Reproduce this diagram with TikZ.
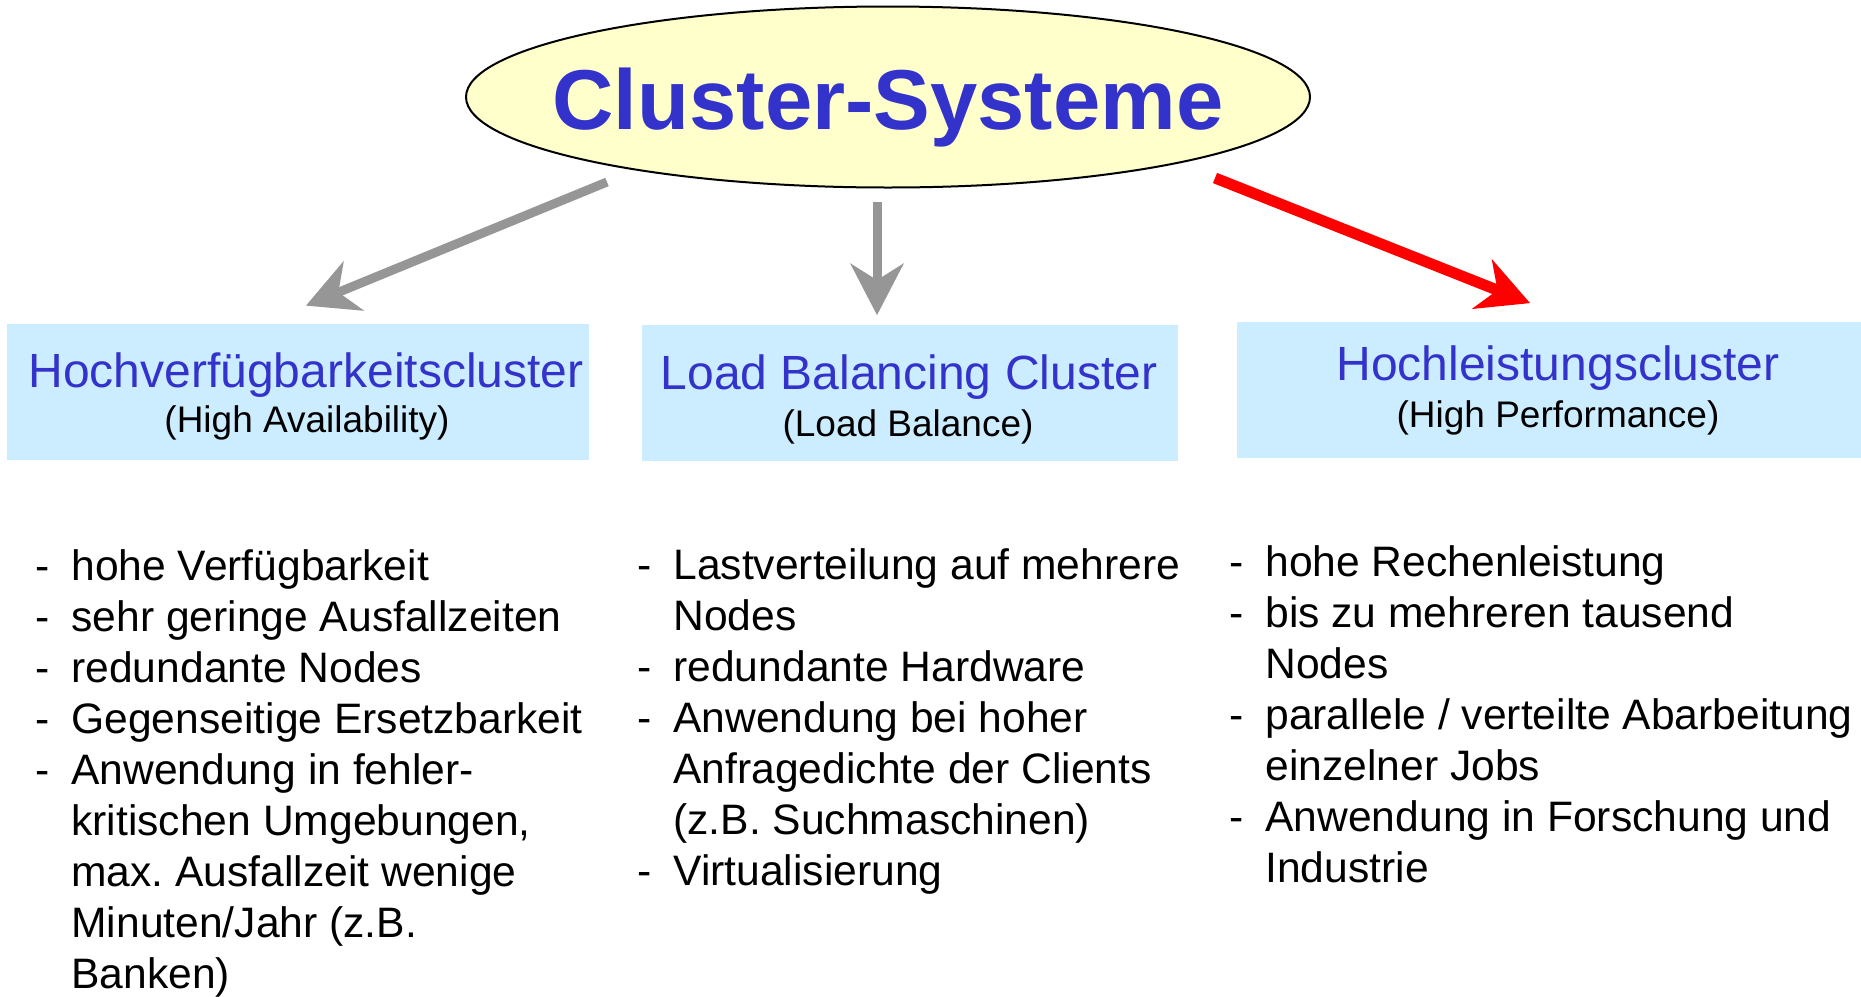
\documentclass[tikz,border=0pt]{standalone}
\usepackage{fontspec}
\setmainfont{Liberation Sans}
\usepackage{tikz}
\usetikzlibrary{arrows.meta,shapes.geometric}

\definecolor{titleblue}{HTML}{3333CC}
\definecolor{boxblue}{HTML}{CCECFF}
\definecolor{ovalyellow}{HTML}{FFFFCC}
\definecolor{arrowgray}{HTML}{969696}

\tikzset{
	>={Stealth[length=26pt, width=27pt, inset=8.5pt, line width=0pt]}, % big filled heads
	oval/.style={ellipse, draw=black, line width=1pt, fill=ovalyellow,
		minimum width=422pt, minimum height=90.5pt, inner sep=0pt},
	ovaltext/.style={anchor=base, inner sep=0pt, text=titleblue,
		font=\fontsize{42.5pt}{50pt}\selectfont\bfseries},
	clusterbox/.style={rectangle, fill=boxblue, inner sep=0pt, minimum height=68pt},
	headline/.style={anchor=base, inner sep=0pt, text=titleblue,
		font=\fontsize{24pt}{28pt}\selectfont},
	subline/.style={anchor=base, inner sep=0pt, font=\fontsize{18.5pt}{22pt}\selectfont},
	itemlist/.style={anchor=base west, inner sep=0pt, font=\fontsize{21.3pt}{25.5pt}\selectfont},
	grayarrow/.style={->, draw=arrowgray, line width=4.5pt},
	redarrow/.style={->, draw=red, line width=5.5pt},
}

% list entries: dash in front, or just the indent for a wrapped line
\newcommand{\itm}[1]{\makebox[18pt][l]{-}#1}
\newcommand{\cnt}[1]{\hspace*{18pt}#1}
\frenchspacing

\begin{document}
\begin{tikzpicture}[x=0.5pt, y=-0.5pt] % one unit = one pixel, y downwards
	\useasboundingbox (0,0) rectangle (1861,996);

	% top oval
	\node[oval] (Sys) at (888,97) {};
	\node[ovaltext] (SysText) at (888,129) {Cluster-Systeme};

	% the three kinds of cluster
	\node[clusterbox, minimum width=291pt] (HA) at (298,392) {};
	\node[clusterbox, minimum width=268pt] (LB) at (910,392.5) {};
	\node[clusterbox, minimum width=312pt] (HP) at (1549,389.5) {};

	\node[headline] (HAtitle) at (306,387) {Hochverfügbarkeitscluster};
	\node[subline] (HAsub) at (307,432) {(High Availability)};
	\node[headline] (LBtitle) at (909,389) {Load Balancing Cluster};
	\node[subline] (LBsub) at (908,436) {(Load Balance)};
	\node[headline] (HPtitle) at (1558,380) {Hochleistungscluster};
	\node[subline] (HPsub) at (1558,427) {(High Performance)};

	% arrows
	\draw[grayarrow] ([shift={(-281,85)}]Sys.center) -- ([shift={(8,-18)}]HA.north);
	\draw[grayarrow] ([shift={(-11,105)}]Sys.center) -- ([shift={(-33,-9)}]LB.north);
	\draw[redarrow] ([shift={(327,81)}]Sys.center) -- ([shift={(-19,-18)}]HP.north);

	% lists
	\node[itemlist] (HAlist) at (35,580) {\begin{tabular}[t]{@{}l@{}}
		\itm{hohe Verfügbarkeit}\\
		\itm{sehr geringe Ausfallzeiten}\\
		\itm{redundante Nodes}\\
		\itm{Gegenseitige Ersetzbarkeit}\\
		\itm{Anwendung in fehler-}\\
		\cnt{kritischen Umgebungen,}\\
		\cnt{max. Ausfallzeit wenige}\\
		\cnt{Minuten/Jahr (z.B.}\\
		\cnt{Banken)}
	\end{tabular}};
	\node[itemlist] (LBlist) at (637,579) {\begin{tabular}[t]{@{}l@{}}
		\itm{Lastverteilung auf mehrere}\\
		\cnt{Nodes}\\
		\itm{redundante Hardware}\\
		\itm{Anwendung bei hoher}\\
		\cnt{Anfragedichte der Clients}\\
		\cnt{(z.B. Suchmaschinen)}\\
		\itm{Virtualisierung}
	\end{tabular}};
	\node[itemlist] (HPlist) at (1229,576) {\begin{tabular}[t]{@{}l@{}}
		\itm{hohe Rechenleistung}\\
		\itm{bis zu mehreren tausend}\\
		\cnt{Nodes}\\
		\itm{parallele / verteilte Abarbeitung}\\
		\cnt{einzelner Jobs}\\
		\itm{Anwendung in Forschung und}\\
		\cnt{Industrie}
	\end{tabular}};
\end{tikzpicture}
\end{document}
